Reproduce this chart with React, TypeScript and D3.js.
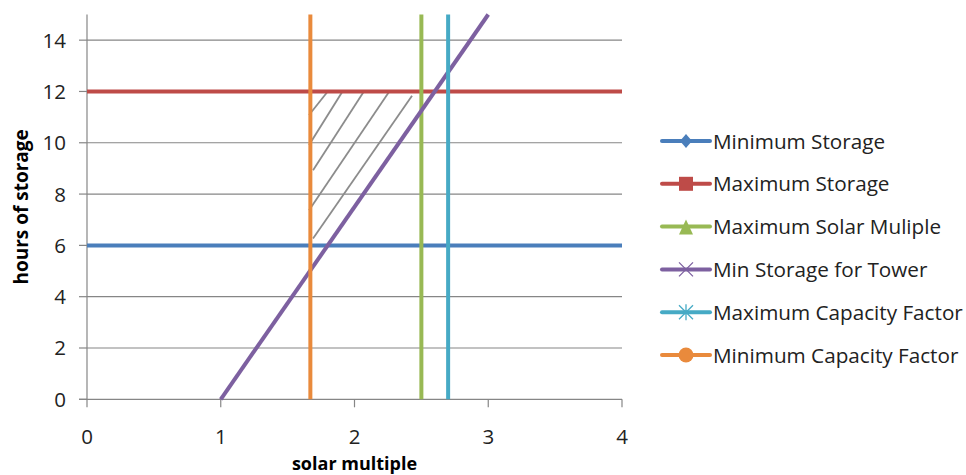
import React, { useRef, useEffect } from 'react';
import * as d3 from 'd3';

// series: each is a straight line given by two points
const seriesNames = [
  'Minimum Storage',
  'Maximum Storage',
  'Maximum Solar Muliple',
  'Min Storage for Tower',
  'Maximum Capacity Factor',
  'Minimum Capacity Factor',
];
const seriesX = [
  [0, 4],
  [0, 4],
  [2.5, 2.5],
  [1, 3],
  [2.7, 2.7],
  [1.67, 1.67],
];
const seriesY = [
  [6, 6],
  [12, 12],
  [0, 15],
  [0, 15],
  [0, 15],
  [0, 15],
];
const seriesColors = ['#4A7EBB', '#BE4B48', '#98B954', '#7D60A0', '#46AAC5', '#E98A3C'];
const markers = ['diamond', 'square', 'triangle', 'x', 'star', 'circle'];

// hand-drawn hatching inside the feasible region: [x1, y1, x2, y2]
const hatchLines = [
  [1.66, 11.08, 1.8, 12.0],
  [1.66, 9.91, 1.91, 12.0],
  [1.69, 8.93, 2.07, 12.0],
  [1.66, 7.37, 2.26, 12.0],
  [1.69, 6.27, 2.43, 11.83],
];

const xTicks = [0, 1, 2, 3, 4];
const yTicks = [0, 2, 4, 6, 8, 10, 12, 14];

export default function App() {
  const svgRef = useRef<SVGSVGElement>(null);

  useEffect(() => {
    const svg = d3.select(svgRef.current);
    svg.selectAll('*').remove();

    const x = d3.scaleLinear().domain([0, 4]).range([87, 622]);
    const y = d3.scaleLinear().domain([0, 15]).range([399.3, 14.5]);
    const font = '"Open Sans", "Noto Sans", sans-serif';
    const axisColor = '#868686';

    // gridlines
    svg.append('g')
      .selectAll('line')
      .data(yTicks.filter(d => d > 0))
      .join('line')
      .attr('x1', x(0)).attr('x2', x(4))
      .attr('y1', d => y(d)).attr('y2', d => y(d))
      .attr('stroke', axisColor).attr('stroke-width', 1.2);

    // y axis
    const yAxis = svg.append('g');
    yAxis.append('line')
      .attr('x1', x(0)).attr('x2', x(0))
      .attr('y1', y(15)).attr('y2', y(0))
      .attr('stroke', axisColor).attr('stroke-width', 1.2);
    yAxis.selectAll('line.tick')
      .data(yTicks)
      .join('line')
      .attr('class', 'tick')
      .attr('x1', x(0) - 8).attr('x2', x(0))
      .attr('y1', d => y(d)).attr('y2', d => y(d))
      .attr('stroke', axisColor).attr('stroke-width', 1.2);
    yAxis.selectAll('text')
      .data(yTicks)
      .join('text')
      .attr('x', 66)
      .attr('y', d => y(d) + 7.5)
      .attr('text-anchor', 'end')
      .attr('font-family', font)
      .attr('font-size', 20.5)
      .attr('fill', '#222')
      .text(d => d);

    // x axis
    const xAxis = svg.append('g');
    xAxis.append('line')
      .attr('x1', x(0) - 8).attr('x2', x(4))
      .attr('y1', y(0)).attr('y2', y(0))
      .attr('stroke', axisColor).attr('stroke-width', 1.2);
    xAxis.selectAll('line.tick')
      .data(xTicks)
      .join('line')
      .attr('class', 'tick')
      .attr('x1', d => x(d)).attr('x2', d => x(d))
      .attr('y1', y(0)).attr('y2', y(0) + 8)
      .attr('stroke', axisColor).attr('stroke-width', 1.2);
    xAxis.selectAll('text')
      .data(xTicks)
      .join('text')
      .attr('x', d => x(d))
      .attr('y', 443.5)
      .attr('text-anchor', 'middle')
      .attr('font-family', font)
      .attr('font-size', 20.5)
      .attr('fill', '#222')
      .text(d => d);

    // axis titles
    svg.append('text')
      .attr('x', x(2))
      .attr('y', 469.5)
      .attr('text-anchor', 'middle')
      .attr('font-family', font)
      .attr('font-weight', 'bold')
      .attr('font-size', 18)
      .text('solar multiple');
    svg.append('text')
      .attr('transform', `translate(28,${y(7.5)}) rotate(-90)`)
      .attr('text-anchor', 'middle')
      .attr('font-family', font)
      .attr('font-weight', 'bold')
      .attr('font-size', 19)
      .text('hours of storage');

    // hatching
    svg.append('g')
      .selectAll('line')
      .data(hatchLines)
      .join('line')
      .attr('x1', d => x(d[0])).attr('y1', d => y(d[1]))
      .attr('x2', d => x(d[2])).attr('y2', d => y(d[3]))
      .attr('stroke', '#8c8c8c').attr('stroke-width', 1.8);

    // series lines
    const lineGen = d3.line<[number, number]>()
      .x(d => x(d[0]))
      .y(d => y(d[1]));
    svg.append('g')
      .selectAll('path')
      .data(seriesNames.map((_, i) => seriesX[i].map((v, j) => [v, seriesY[i][j]] as [number, number])))
      .join('path')
      .attr('d', d => lineGen(d))
      .attr('fill', 'none')
      .attr('stroke', (_, i) => seriesColors[i])
      .attr('stroke-width', 4);

    // legend
    const legend = svg.append('g');
    const rowY = (i: number) => 141 + i * 42.8;
    seriesNames.forEach((name, i) => {
      const g = legend.append('g').attr('transform', `translate(0,${rowY(i)})`);
      const c = seriesColors[i];
      g.append('line')
        .attr('x1', 662).attr('x2', 710)
        .attr('y1', 0).attr('y2', 0)
        .attr('stroke', c).attr('stroke-width', 4)
        .attr('stroke-linecap', 'round');
      const mx = 686;
      const m = markers[i];
      if (m === 'diamond') {
        g.append('path').attr('d', `M${mx},-7L${mx + 6},0L${mx},7L${mx - 6},0Z`).attr('fill', c);
      } else if (m === 'square') {
        g.append('rect').attr('x', mx - 7).attr('y', -7).attr('width', 14).attr('height', 14).attr('fill', c);
      } else if (m === 'triangle') {
        g.append('path').attr('d', `M${mx},-7L${mx + 7},8L${mx - 7},8Z`).attr('fill', c);
      } else if (m === 'x') {
        g.append('path').attr('d', `M${mx - 7},-7L${mx + 7},7M${mx - 7},7L${mx + 7},-7`)
          .attr('stroke', c).attr('stroke-width', 1.3);
      } else if (m === 'star') {
        g.append('path').attr('d', `M${mx - 7},-7L${mx + 7},7M${mx - 7},7L${mx + 7},-7M${mx},-8L${mx},8`)
          .attr('stroke', c).attr('stroke-width', 1.3);
      } else {
        g.append('circle').attr('cx', mx).attr('cy', 0).attr('r', 7.5).attr('fill', c);
      }
      g.append('text')
        .attr('x', 713)
        .attr('y', 7.5)
        .attr('font-family', font)
        .attr('font-size', 20.7)
        .attr('fill', '#222')
        .text(name);
    });
  }, []);

  return (
    <svg
      ref={svgRef}
      width={966}
      height={475}
      style={{ position: 'absolute', left: 0, top: 0, background: '#fff', display: 'block' }}
    />
  );
}
